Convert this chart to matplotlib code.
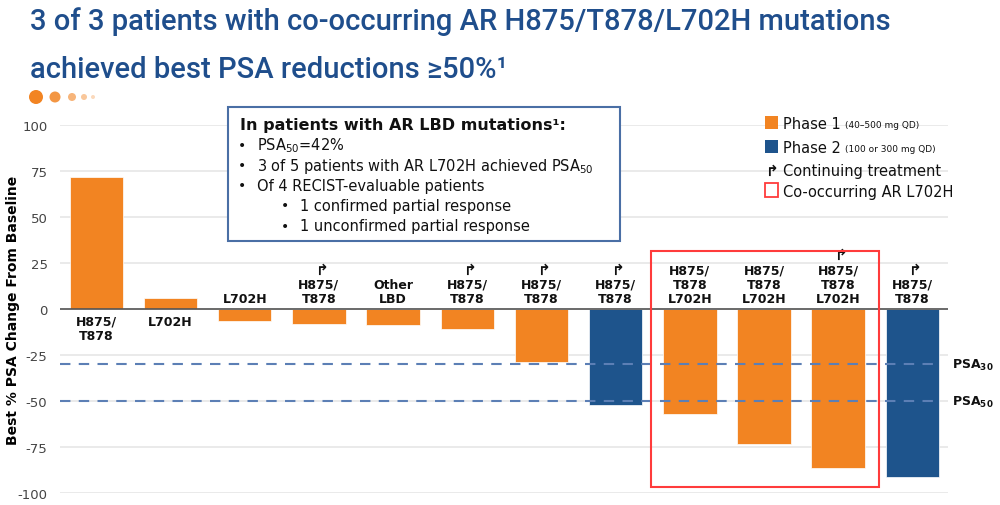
import matplotlib
matplotlib.use("Agg")
import matplotlib.pyplot as plt
from matplotlib.patches import Rectangle, Ellipse

# ---------------- data ----------------
mutations = ["H875/\nT878", "L702H", "L702H", "H875/\nT878", "Other\nLBD", "H875/\nT878",
             "H875/\nT878", "H875/\nT878", "H875/\nT878\nL702H", "H875/\nT878\nL702H",
             "H875/\nT878\nL702H", "H875/\nT878"]
psa_change = [72, 6, -6.5, -8.2, -8.7, -11, -29, -52, -57, -73.5, -86.5, -91.5]
phase = [1, 1, 1, 1, 1, 1, 1, 2, 1, 1, 1, 2]
continuing = [False, False, False, True, False, True, True, True, False, False, True, True]
co_occurring = [False, False, False, False, False, False, False, False, True, True, True, False]
yticks = [-100, -75, -50, -25, 0, 25, 50, 75, 100]
thresholds = [-30, -50]
threshold_labels = ["PSA$_{\\mathbf{30}}$", "PSA$_{\\mathbf{50}}$"]

ORANGE = "#F28422"
BLUE = "#1E548C"
TITLE_BLUE = "#1F4E8C"
DASH_BLUE = "#5C7FB5"
RED = "#FF3B3B"

plt.rcParams['font.family'] = ['DejaVu Sans']
plt.rcParams['mathtext.fontset'] = 'dejavusans'

fig = plt.figure(figsize=(10, 5.06), dpi=100)
W, H = 1000, 506
ax = fig.add_axes([60 / W, 1 - 494 / H, 888 / W, 368 / H])
x = list(range(len(psa_change)))
colors = [ORANGE if p == 1 else BLUE for p in phase]
ax.bar(x, psa_change, width=0.72, color=colors, zorder=3, edgecolor="white", linewidth=0.5)
ax.set_xlim(-0.49, 11.48)
ax.set_ylim(-100, 100)
ax.set_yticks(yticks)
ax.set_yticklabels([str(t) for t in yticks], color="#444444", fontsize=9.5)
ax.tick_params(axis='y', length=0, pad=9)
ax.set_xticks([])
for s in ax.spines.values():
    s.set_visible(False)
ax.grid(axis='y', color="#E6E6E6", linewidth=1.2, zorder=0)
ax.axhline(0, color="#555555", linewidth=1.2, zorder=4)
ax.set_ylabel("Best % PSA Change From Baseline", fontsize=10, fontweight='bold')
ax.yaxis.set_label_coords(-40 / 888, 0.5)

for t, lab in zip(thresholds, threshold_labels):
    ax.plot([-0.49, 11.35], [t, t], linestyle=(0, (5, 4)), color=DASH_BLUE, linewidth=1.5, zorder=5,
            clip_on=False)
    ax.text(11.53, t, lab, fontsize=9, fontweight='bold', va='center', ha='left', color="#111111")

# bar labels
for i, (lab, v, cont) in enumerate(zip(mutations, psa_change, continuing)):
    n = lab.count("\n") + 1
    if v > 0:
        ax.text(i, -3, lab, ha='center', va='top', fontsize=9, fontweight='bold',
                linespacing=1.15, color="#111111", zorder=6)
    else:
        ax.text(i, 2, lab, ha='center', va='bottom', fontsize=9, fontweight='bold',
                linespacing=1.15, color="#111111", zorder=6)
        if cont:
            ax.text(i + 0.03, 5.5 + 8.0 * n, "↱", ha='center', va='center', fontsize=11,
                    fontweight='bold', color="#111111", zorder=6)

# co-occurring box
idx = [i for i, c in enumerate(co_occurring) if c]
ax.add_patch(Rectangle((min(idx) - 0.52, -96.5), (max(idx) - min(idx)) + 1.07, 128,
                       fill=False, edgecolor=RED, linewidth=1.5, zorder=7, clip_on=False))

# ---------------- overlay for annotations (pixel coords) ----------------
ov = fig.add_axes([0, 0, 1, 1], facecolor='none')
ov.set_xlim(0, W)
ov.set_ylim(H, 0)
ov.axis('off')

ov.text(30, 22, "3 of 3 patients with co-occurring AR H875/T878/L702H mutations",
        fontsize=21, color=TITLE_BLUE, fontweight='medium', family='Roboto', va='center', ha='left')
ov.text(30, 70, "achieved best PSA reductions ≥50%¹",
        fontsize=21, color=TITLE_BLUE, fontweight='medium', family='Roboto', va='center', ha='left')

# decorative dots
for cx, r, a in [(36, 7, 1.0), (55, 5.5, 0.85), (72, 4, 0.6), (84, 3, 0.45), (93, 2, 0.3)]:
    ov.add_patch(Ellipse((cx, 98), 2 * r, 2 * r, color=ORANGE, alpha=a, linewidth=0))

# info box
ov.add_patch(Rectangle((228, 108), 392, 134, fill=True, facecolor='white', edgecolor="#4A6FA5",
                       linewidth=1.5))
ov.text(240, 125, "In patients with AR LBD mutations¹:", fontsize=11.5, fontweight='bold',
        va='center', ha='left', color="#111111")
lines = [(242, 257, 146, "PSA$_{50}$=42%"),
         (242, 257, 166, "3 of 5 patients with AR L702H achieved PSA$_{50}$"),
         (242, 257, 186, "Of 4 RECIST-evaluable patients"),
         (285, 300, 206, "1 confirmed partial response"),
         (285, 300, 227, "1 unconfirmed partial response")]
for bx, tx, ty, txt in lines:
    ov.text(bx, ty, "•", fontsize=10, va='center', ha='center', color="#111111")
    ov.text(tx, ty, txt, fontsize=10.5, va='center', ha='left', color="#111111")

# legend
ov.add_patch(Rectangle((765, 117), 13, 13, facecolor=ORANGE, edgecolor='none'))
ov.text(783, 124, "Phase 1", fontsize=10.5, va='center', ha='left', color="#111111")
ov.text(845, 125, "(40–500 mg QD)", fontsize=6.5, va='center', ha='left', color="#111111")
ov.add_patch(Rectangle((765, 141), 13, 13, facecolor=BLUE, edgecolor='none'))
ov.text(783, 148, "Phase 2", fontsize=10.5, va='center', ha='left', color="#111111")
ov.text(845, 149, "(100 or 300 mg QD)", fontsize=6.5, va='center', ha='left', color="#111111")
ov.text(771, 171, "↱", fontsize=11, fontweight='bold', va='center', ha='center', color="#111111")
ov.text(783, 171, "Continuing treatment", fontsize=10.5, va='center', ha='left', color="#111111")
ov.add_patch(Rectangle((765, 184), 13, 14, fill=False, edgecolor=RED, linewidth=1.3))
ov.text(783, 192, "Co-occurring AR L702H", fontsize=10.5, va='center', ha='left', color="#111111")

fig.savefig("out.png", dpi=100)
